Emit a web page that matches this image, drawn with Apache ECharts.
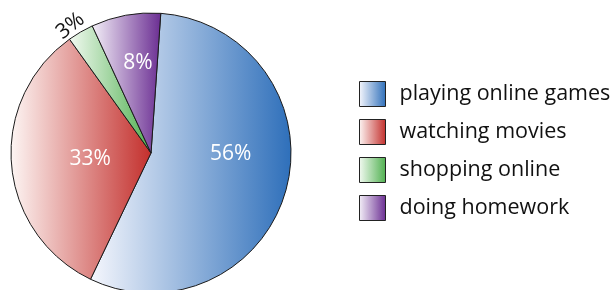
<!DOCTYPE html>
<html>
<head>
<meta charset="utf-8">
<script src="https://cdn.jsdelivr.net/npm/echarts@6/dist/echarts.min.js"></script>
<style>
  html, body { margin: 0; padding: 0; background: #fff; }
  #chart { width: 616px; height: 290px; }
</style>
</head>
<body>
<div id="chart"></div>
<script>
var categories = ['playing online games', 'watching movies', 'shopping online', 'doing homework'];
var values = [56, 33, 3, 8];
var darkColors = ['#2e6fba', '#c32f2c', '#4fb04f', '#6a2d92'];
var lightColors = ['#f6f7fd', '#fdf6f4', '#f3faf2', '#f4f0f8'];
// small nudges so the labels sit where the original has them
var labelNudge = [[9, -18], [12, 0], [14, -6], [0, -18]];

function grad(i) {
    return new echarts.graphic.LinearGradient(0, 0, 1, 0, [
        { offset: 0, color: lightColors[i] },
        { offset: 1, color: darkColors[i] }
    ]);
}

var pieData = categories.map(function (name, i) {
    var item = {
        name: name,
        value: values[i],
        itemStyle: { color: grad(i) }
    };
    if (i === 2) {
        item.label = {
            position: 'outside',
            color: '#111',
            rotate: 38,
            distance: 0
        };
        item.labelLine = { show: false, length: 2, length2: 0 };
    }
    return item;
});

var myChart = echarts.init(document.getElementById('chart'));
var option = {
    animation: false,
    legend: {
        orient: 'vertical',
        left: 354,
        top: 76,
        icon: 'rect',
        itemWidth: 26,
        itemHeight: 25,
        itemGap: 12,
        selectedMode: false,
        data: categories,
        textStyle: {
            fontFamily: 'Open Sans',
            fontSize: 21.5,
            color: '#111',
            padding: [0, 0, 0, 9]
        },
        itemStyle: { borderColor: '#222', borderWidth: 1 }
    },
    series: [{
        type: 'pie',
        center: [151, 153],
        radius: [0, 140],
        startAngle: 86,
        clockwise: true,
        avoidLabelOverlap: false,
        data: pieData,
        itemStyle: { borderColor: '#1a1a1a', borderWidth: 1 },
        label: {
            show: true,
            position: 'inside',
            formatter: '{c}%',
            fontFamily: 'Open Sans',
            fontSize: 21,
            color: '#fff'
        },
        labelLayout: function (params) {
            var n = labelNudge[params.dataIndex];
            return { dx: n[0], dy: n[1] };
        },
        emphasis: { disabled: true }
    }]
};
myChart.setOption(option);
</script>
</body>
</html>
